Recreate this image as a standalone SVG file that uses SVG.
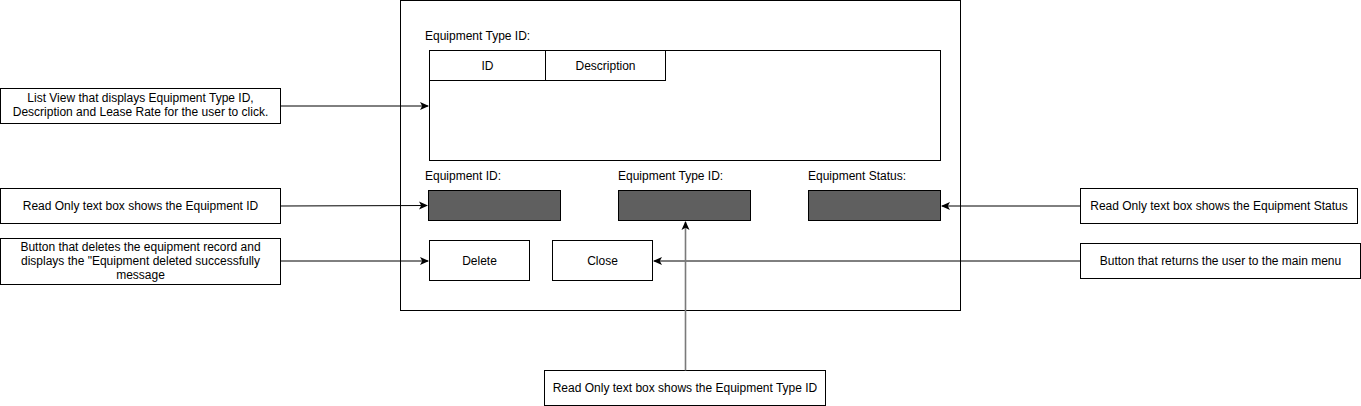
<svg xmlns="http://www.w3.org/2000/svg" width="1361" height="406" viewBox="0 0 1361 406">
<style>
text{font-family:"Liberation Sans",Arial,sans-serif;font-size:12px;fill:#000}
.c{text-anchor:middle}
.box{fill:#fff;stroke:#000;stroke-width:1}
.dark{fill:#5f5f5f;stroke:#000;stroke-width:1}
.ln{stroke:#000;stroke-width:1;fill:none}
</style>
<defs>
<marker id="a" markerWidth="10" markerHeight="10" refX="8" refY="4.5" orient="auto" markerUnits="userSpaceOnUse">
<path d="M0,0.5 L9,4.5 L0,8.5 L2.2,4.5 Z" fill="#000"/>
</marker>
</defs>
<rect width="1361" height="406" fill="#fff"/>
<g id="frame"><rect class="box" x="400.5" y="0.5" width="560" height="310"/></g>
<g id="lbl-type-list"><text x="425" y="40">Equipment Type ID:</text></g>
<g id="listview">
<rect class="box" x="429.5" y="50.5" width="511" height="110"/>
<rect class="box" x="429.5" y="50.5" width="116" height="30"/>
<rect class="box" x="545.5" y="50.5" width="120" height="30"/>
<text class="c" x="487.5" y="70">ID</text>
<text class="c" x="605.5" y="70">Description</text>
</g>
<g id="eqid"><text x="425" y="180">Equipment ID:</text><rect class="dark" x="428.5" y="190.5" width="132" height="30"/></g>
<g id="eqtype"><text x="618" y="180">Equipment Type ID:</text><rect class="dark" x="618.5" y="190.5" width="132" height="30"/></g>
<g id="eqstatus"><text x="808" y="180">Equipment Status:</text><rect class="dark" x="808.5" y="190.5" width="132" height="30"/></g>
<g id="delete"><rect class="box" x="429.5" y="240.5" width="100" height="40"/><text class="c" x="479.5" y="265">Delete</text></g>
<g id="close"><rect class="box" x="552.5" y="240.5" width="100" height="40"/><text class="c" x="602.5" y="265">Close</text></g>
<g id="n-list"><rect class="box" x="0.5" y="88.5" width="280" height="35"/><text class="c" x="140.5" y="102">List View that displays Equipment Type ID,</text><text class="c" x="140.5" y="116">Description and Lease Rate for the user to click.</text></g>
<g id="n-eqid"><rect class="box" x="0.5" y="188.5" width="280" height="35"/><text class="c" x="140.5" y="210">Read Only text box shows the Equipment ID</text></g>
<g id="n-delete"><rect class="box" x="0.5" y="238.5" width="280" height="46"/><text class="c" x="140.5" y="251">Button that deletes the equipment record and</text><text class="c" x="140.5" y="265">displays the "Equipment deleted successfully</text><text class="c" x="140.5" y="279">message</text></g>
<g id="n-status"><rect class="box" x="1080.5" y="188.5" width="277" height="35"/><text class="c" x="1219" y="210">Read Only text box shows the Equipment Status</text></g>
<g id="n-close"><rect class="box" x="1080.5" y="243.5" width="280" height="35"/><text class="c" x="1220.5" y="265">Button that returns the user to the main menu</text></g>
<g id="n-type"><rect class="box" x="544.5" y="370.5" width="281" height="35"/><text class="c" x="685" y="392">Read Only text box shows the Equipment Type ID</text></g>
<g id="connectors">
<line class="ln" x1="280.5" y1="106" x2="428" y2="106" marker-end="url(#a)"/>
<line class="ln" x1="280.5" y1="206" x2="427" y2="205.5" marker-end="url(#a)"/>
<line class="ln" x1="280.5" y1="261" x2="428" y2="261" marker-end="url(#a)"/>
<line class="ln" x1="1080.5" y1="206" x2="942" y2="206" marker-end="url(#a)"/>
<line class="ln" x1="1080.5" y1="261" x2="654" y2="261" marker-end="url(#a)"/>
<line class="ln" style="stroke:#7a7a7a;stroke-width:1.6" x1="685.5" y1="370.5" x2="685.5" y2="222" marker-end="url(#a)"/>
</g>
</svg>
